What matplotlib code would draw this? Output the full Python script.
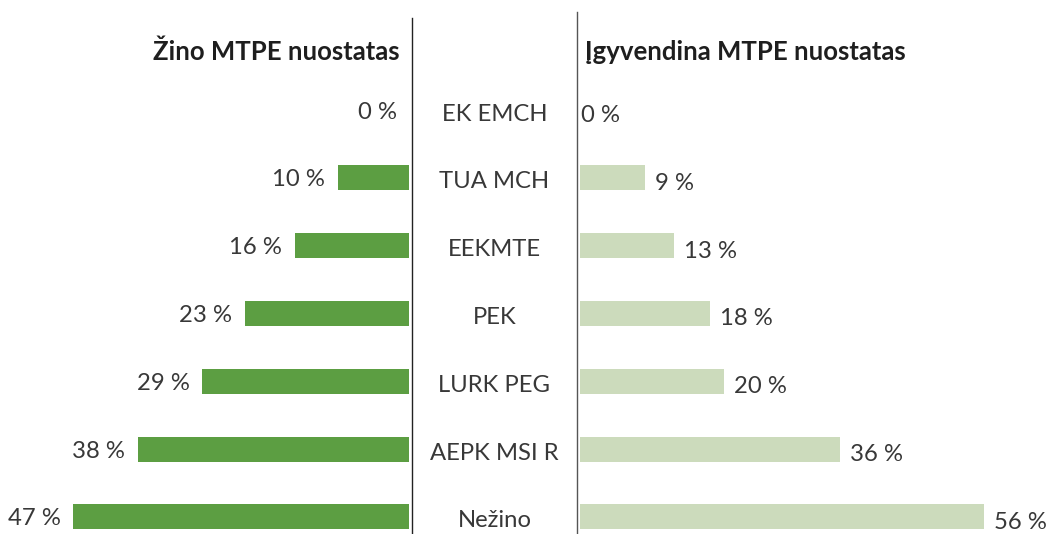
import matplotlib
matplotlib.use("Agg")
import matplotlib.pyplot as plt
from matplotlib.lines import Line2D

categories = ["EK EMCH", "TUA MCH", "EEKMTE", "PEK", "LURK PEG", "AEPK MSI R", "Nežino"]
knows = [0, 10, 16, 23, 29, 38, 47]
implements = [0, 9, 13, 18, 20, 36, 56]
title_left = "Žino MTPE nuostatas"
title_right = "Įgyvendina MTPE nuostatas"

plt.rcParams['font.family'] = ['Lato', 'DejaVu Sans']

W, H = 1048, 534
fig = plt.figure(figsize=(W / 100, H / 100), dpi=100)

dark = "#5c9e42"
light = "#ccdbbc"
txt = "#383838"

scaleL = 7.14         # px per percent
scaleR = 7.22
row0 = 110.0          # px of first row centre
step = 67.8           # px between rows
ylo = (H - row0) / step
yhi = -row0 / step

left_edge = 409
right_start = 580

axL = fig.add_axes([0, 0, left_edge / W, 1])
axR = fig.add_axes([right_start / W, 0, (W - right_start) / W, 1])
axC = fig.add_axes([412 / W, 0, (577 - 412) / W, 1])

ys = list(range(len(categories)))
bh = 25 / step
fs = 17.2
fw = "normal"

axL.barh(ys, knows, height=bh, color=dark)
axL.set_xlim(left_edge / scaleL, 0)
axL.set_ylim(ylo, yhi)
for y, v in zip(ys, knows):
    axL.annotate(f"{v} %", (v, y), xytext=(-9, -1.5), textcoords="offset points",
                 ha="right", va="center", fontsize=fs, fontweight=fw, color=txt)

axR.barh(ys, implements, height=bh, color=light)
axR.set_xlim(0, (W - right_start) / scaleR)
axR.set_ylim(ylo, yhi)
for y, v in zip(ys, implements):
    off = 7 if v > 0 else 1
    axR.annotate(f"{v} %", (v, y), xytext=(off, -4.0), textcoords="offset points",
                 ha="left", va="center", fontsize=fs, fontweight=fw, color=txt)

axC.set_xlim(0, 1)
axC.set_ylim(ylo, yhi)
for y, c in zip(ys, categories):
    axC.text(0.5, y + 0.06, c, ha="center", va="center", fontsize=fs,
             fontweight=fw, color=txt)

for ax in (axL, axR, axC):
    ax.axis("off")

fig.text(400 / W, 1 - 52 / H, title_left, ha="right", va="center",
         fontsize=18.5, fontweight="bold", color="#1e1e1e")
fig.text(585 / W, 1 - 52 / H, title_right, ha="left", va="center",
         fontsize=18.5, fontweight="bold", color="#1e1e1e")

fig.add_artist(Line2D([412 / W, 412 / W], [0, 1 - 18 / H], color="#222222", lw=1.0))
fig.add_artist(Line2D([577 / W, 577 / W], [0, 1 - 12 / H], color="#555555", lw=1.0))

fig.savefig("out.png", dpi=100)
